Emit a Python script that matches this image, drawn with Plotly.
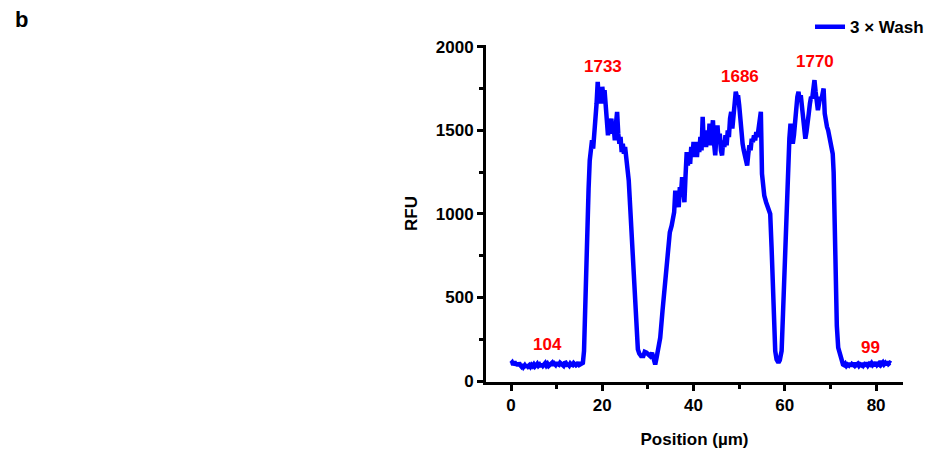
import plotly.graph_objects as go

# ---- data (profile, in segments) ----
baseline_left = [105, 112, 98, 118, 95, 108, 92, 110, 96, 88, 100, 85, 94, 82, 98, 88,
                 95, 86, 97, 90, 100, 88, 96, 104, 92, 99, 87, 102, 92, 99, 108, 94,
                 103, 91, 97, 106, 110, 95, 105, 98, 112, 101, 98, 110, 104, 96, 92, 108,
                 110, 98, 100, 93, 106, 99, 96, 108, 104, 95, 100, 112, 98, 104, 106, 110]
rise_1_pos = [16.0, 16.3, 16.7, 17.0, 17.25]
rise_1_rfu = [180, 530, 900, 1150, 1320]
plateau_1 = [1380, 1440, 1390, 1480, 1520, 1660, 1790, 1680, 1730, 1660, 1760, 1700, 1740,
             1620, 1600, 1470, 1540, 1500, 1570, 1480, 1520, 1440, 1540, 1610, 1480, 1420,
             1460, 1370, 1420, 1360, 1400, 1340, 1330]
valley_1_pos = [25.8, 26.1, 26.5, 26.8, 27.2, 27.5, 27.8, 28.1, 28.5, 29.0, 29.3, 29.7, 30.0,
                30.5, 30.9, 31.2, 31.6, 31.9, 32.3, 32.7, 33.2, 33.8, 34.3, 34.8, 35.2]
valley_1_rfu = [1200, 1050, 850, 650, 420, 250, 190, 165, 150, 150, 175, 170, 160,
                150, 170, 130, 100, 140, 190, 260, 420, 620, 780, 890, 930]
plateau_2 = [960, 1010, 1140, 1050, 1090, 1040, 1160, 1120, 1220, 1140, 1070,
             1230, 1370, 1290, 1360, 1300, 1400, 1340, 1430, 1360, 1410, 1340,
             1430, 1370, 1460, 1380, 1580, 1420, 1480, 1400, 1500, 1420, 1540,
             1410, 1480, 1560, 1420, 1350, 1460, 1530, 1420, 1480, 1380, 1350,
             1440, 1400, 1470, 1410, 1500, 1460, 1570, 1610, 1510, 1590, 1650,
             1730, 1700, 1710, 1650, 1560, 1460, 1420, 1380, 1350, 1310, 1290,
             1360, 1410, 1380, 1450, 1430, 1470, 1440, 1490, 1460, 1530, 1580,
             1610, 1240]
valley_2_pos = [55.2, 55.5, 55.9, 56.2, 56.5, 56.8, 57.1, 57.4, 57.7, 57.9, 58.2, 58.6,
                58.9, 59.3, 59.6, 60.0, 60.4]
valley_2_rfu = [1150, 1110, 1070, 1050, 1020, 1000, 800, 530, 300, 180, 130, 110,
                125, 180, 400, 730, 1050]
plateau_3 = [1320, 1450, 1540, 1470, 1420, 1470, 1560, 1620, 1700, 1730,
             1680, 1710, 1640, 1560, 1480, 1450, 1490, 1530, 1600, 1660,
             1700, 1690, 1760, 1800, 1730, 1680, 1620, 1660, 1700, 1680,
             1730, 1750, 1600, 1540, 1520, 1500, 1470, 1440, 1400, 1360]
fall_3_pos = [70.7, 70.9, 71.1, 71.4, 71.7, 72.1, 72.5]
fall_3_rfu = [1250, 900, 600, 330, 200, 150, 110]
baseline_right = [100, 96, 104, 92, 100, 95, 108, 90, 102, 97, 110, 93, 99, 104, 92, 101,
                  96, 107, 94, 102, 98, 110, 95, 104, 99, 108, 96, 103, 100, 112, 97, 104,
                  98, 122, 104, 112, 100, 108, 96, 118, 104, 110, 106]

series_name = "3 × Wash"
peak_labels = ["104", "1733", "1686", "1770", "99"]
peak_x = [8.1, 20.2, 50.2, 66.6, 78.7]
peak_y = [219, 1883, 1823, 1913, 200]
x_ticks = [0, 20, 40, 60, 80]
y_ticks = [0, 500, 1000, 1500, 2000]


def grid(start, step, values):
    return [round(start + i * step, 3) for i in range(len(values))]


position = (grid(0.0, 0.25, baseline_left) + rise_1_pos + grid(17.5, 0.25, plateau_1)
            + valley_1_pos + grid(35.5, 0.25, plateau_2) + valley_2_pos
            + grid(60.75, 0.25, plateau_3) + fall_3_pos + grid(72.75, 0.25, baseline_right))
rfu = (baseline_left + rise_1_rfu + plateau_1 + valley_1_rfu + plateau_2 + valley_2_rfu
       + plateau_3 + fall_3_rfu + baseline_right)

FONT = "Liberation Sans, Arial, sans-serif"

fig = go.Figure()
fig.add_trace(go.Scatter(
    x=position, y=rfu, mode="lines", name=series_name,
    line=dict(color="#0000FF", width=4.5),
))

for t, xv, yv in zip(peak_labels, peak_x, peak_y):
    fig.add_annotation(x=xv, y=yv, text=f"<b>{t}</b>", showarrow=False,
                       font=dict(color="#FF0000", size=17, family=FONT),
                       xanchor="center", yanchor="middle")

fig.add_annotation(xref="paper", yref="paper", x=-1.115, y=1.075, text="<b>b</b>",
                   showarrow=False, font=dict(size=22, family=FONT, color="black"),
                   xanchor="center", yanchor="middle")

axis_common = dict(
    showline=True, linecolor="black", linewidth=3, mirror=False,
    ticks="outside", tickcolor="black", tickwidth=3, ticklen=6,
    showgrid=False, zeroline=False,
    tickfont=dict(family=FONT, size=17, color="black", weight="bold"),
)

fig.update_layout(
    width=933, height=462,
    margin=dict(l=486, r=30, t=45, b=80, autoexpand=False),
    plot_bgcolor="white", paper_bgcolor="white",
    font=dict(family=FONT, color="black"),
    showlegend=True,
    legend=dict(x=0.777, y=1.053, xanchor="left", yanchor="middle",
                bgcolor="rgba(0,0,0,0)", borderwidth=0,
                font=dict(family=FONT, size=17, color="black", weight="bold"),
                itemwidth=30, tracegroupgap=0),
    xaxis=dict(range=[-5.48, 85.9], tickvals=x_ticks,
               minor=dict(ticks="outside", dtick=10, tick0=0, ticklen=4, tickwidth=3, tickcolor="black"),
               title=dict(text="Position (µm)", font=dict(family=FONT, size=17, color="black", weight="bold"), standoff=19),
               **axis_common),
    yaxis=dict(range=[-5, 2010], tickvals=y_ticks,
               minor=dict(ticks="outside", dtick=250, tick0=0, ticklen=4, tickwidth=3, tickcolor="black"),
               title=dict(text="RFU", font=dict(family=FONT, size=17, color="black", weight="bold"), standoff=14),
               **axis_common),
)

fig.write_html("out.html")
